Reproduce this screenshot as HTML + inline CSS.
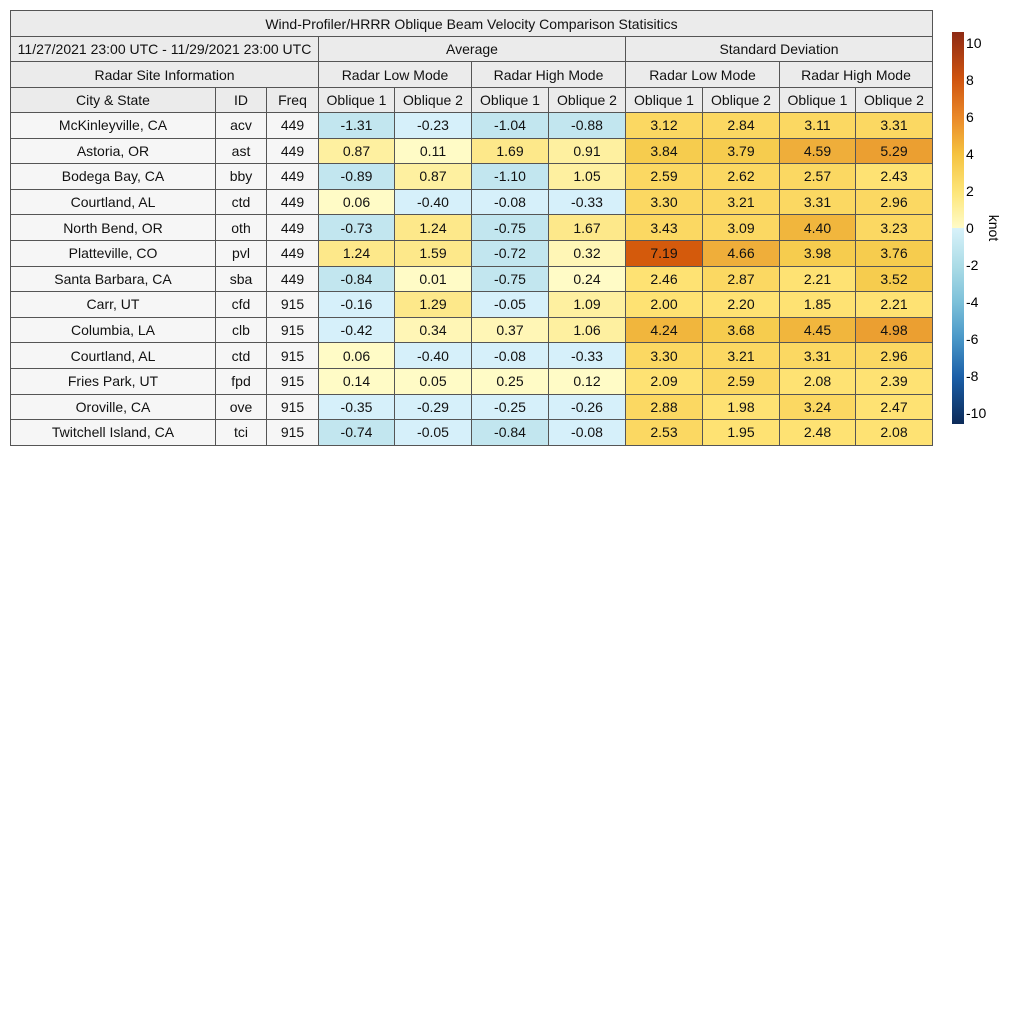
<!DOCTYPE html>
<html><head><meta charset="utf-8"><style>
body{margin:0;background:#fff;width:1024px;height:1024px;position:relative;font-family:"Liberation Sans",sans-serif;}
table{position:absolute;left:10px;top:10px;border-collapse:collapse;table-layout:fixed;width:922px;font-size:14px;color:#111;}
td{border:1px solid #555;text-align:center;padding:0;overflow:hidden;white-space:nowrap;}
tr.h td{background:#ebebeb;}
tr.d td{height:24.6px;}
tr.d td.s{background:#f6f6f6;}
.n0{background:#d6f0fa}.n1{background:#c2e6ef}
.p0{background:#fffbc6}.p03{background:#fff6b6}.p1{background:#fef0a0}.p15{background:#fde88a}.p2{background:#fee273}
.p3{background:#fbd862}.p35{background:#f6cc4e}.p4{background:#f1b63d}.p45{background:#efae3a}.p5{background:#eb9f31}.p7{background:#d45a0c;}
.cb{position:absolute;left:952px;top:32px;width:12px;height:392px;background:linear-gradient(to top,#0c2a58 0%,#1b5fa8 12%,#4a98c8 22%,#7cc0d9 31%,#aadbe6 40%,#d8f2fa 50%,#fffbc8 50%,#fde67a 59%,#f5c23f 69%,#ea8a2a 78%,#cf5410 88%,#8e2a14 100%);}
.t{position:absolute;left:966px;font-size:14px;line-height:14px;}
</style></head><body>
<table>
<colgroup><col style="width:205px"><col style="width:51px"><col style="width:52px"><col style="width:76px"><col style="width:77px"><col style="width:77px"><col style="width:77px"><col style="width:77px"><col style="width:77px"><col style="width:76px"><col style="width:77px"></colgroup>
<tr class="h"><td colspan="11" style="height:25px">Wind-Profiler/HRRR Oblique Beam Velocity Comparison Statisitics</td></tr>
<tr class="h"><td colspan="3" style="height:24px">11/27/2021 23:00 UTC - 11/29/2021 23:00 UTC</td><td colspan="4">Average</td><td colspan="4">Standard Deviation</td></tr>
<tr class="h"><td colspan="3" style="height:25px">Radar Site Information</td><td colspan="2">Radar Low Mode</td><td colspan="2">Radar High Mode</td><td colspan="2">Radar Low Mode</td><td colspan="2">Radar High Mode</td></tr>
<tr class="h"><td style="height:24px">City &amp; State</td><td>ID</td><td>Freq</td><td>Oblique 1</td><td>Oblique 2</td><td>Oblique 1</td><td>Oblique 2</td><td>Oblique 1</td><td>Oblique 2</td><td>Oblique 1</td><td>Oblique 2</td></tr>
<tr class="d"><td class="s">McKinleyville, CA</td><td class="s">acv</td><td class="s">449</td><td class="n1">-1.31</td><td class="n0">-0.23</td><td class="n1">-1.04</td><td class="n1">-0.88</td><td class="p3">3.12</td><td class="p3">2.84</td><td class="p3">3.11</td><td class="p3">3.31</td></tr>
<tr class="d"><td class="s">Astoria, OR</td><td class="s">ast</td><td class="s">449</td><td class="p1">0.87</td><td class="p0">0.11</td><td class="p15">1.69</td><td class="p1">0.91</td><td class="p35">3.84</td><td class="p35">3.79</td><td class="p45">4.59</td><td class="p5">5.29</td></tr>
<tr class="d"><td class="s">Bodega Bay, CA</td><td class="s">bby</td><td class="s">449</td><td class="n1">-0.89</td><td class="p1">0.87</td><td class="n1">-1.10</td><td class="p1">1.05</td><td class="p3">2.59</td><td class="p3">2.62</td><td class="p3">2.57</td><td class="p2">2.43</td></tr>
<tr class="d"><td class="s">Courtland, AL</td><td class="s">ctd</td><td class="s">449</td><td class="p0">0.06</td><td class="n0">-0.40</td><td class="n0">-0.08</td><td class="n0">-0.33</td><td class="p3">3.30</td><td class="p3">3.21</td><td class="p3">3.31</td><td class="p3">2.96</td></tr>
<tr class="d"><td class="s">North Bend, OR</td><td class="s">oth</td><td class="s">449</td><td class="n1">-0.73</td><td class="p15">1.24</td><td class="n1">-0.75</td><td class="p15">1.67</td><td class="p3">3.43</td><td class="p3">3.09</td><td class="p4">4.40</td><td class="p3">3.23</td></tr>
<tr class="d"><td class="s">Platteville, CO</td><td class="s">pvl</td><td class="s">449</td><td class="p15">1.24</td><td class="p15">1.59</td><td class="n1">-0.72</td><td class="p03">0.32</td><td class="p7">7.19</td><td class="p45">4.66</td><td class="p35">3.98</td><td class="p35">3.76</td></tr>
<tr class="d"><td class="s">Santa Barbara, CA</td><td class="s">sba</td><td class="s">449</td><td class="n1">-0.84</td><td class="p0">0.01</td><td class="n1">-0.75</td><td class="p0">0.24</td><td class="p2">2.46</td><td class="p3">2.87</td><td class="p2">2.21</td><td class="p35">3.52</td></tr>
<tr class="d"><td class="s">Carr, UT</td><td class="s">cfd</td><td class="s">915</td><td class="n0">-0.16</td><td class="p15">1.29</td><td class="n0">-0.05</td><td class="p1">1.09</td><td class="p2">2.00</td><td class="p2">2.20</td><td class="p2">1.85</td><td class="p2">2.21</td></tr>
<tr class="d"><td class="s">Columbia, LA</td><td class="s">clb</td><td class="s">915</td><td class="n0">-0.42</td><td class="p03">0.34</td><td class="p03">0.37</td><td class="p1">1.06</td><td class="p4">4.24</td><td class="p35">3.68</td><td class="p4">4.45</td><td class="p5">4.98</td></tr>
<tr class="d"><td class="s">Courtland, AL</td><td class="s">ctd</td><td class="s">915</td><td class="p0">0.06</td><td class="n0">-0.40</td><td class="n0">-0.08</td><td class="n0">-0.33</td><td class="p3">3.30</td><td class="p3">3.21</td><td class="p3">3.31</td><td class="p3">2.96</td></tr>
<tr class="d"><td class="s">Fries Park, UT</td><td class="s">fpd</td><td class="s">915</td><td class="p0">0.14</td><td class="p0">0.05</td><td class="p0">0.25</td><td class="p0">0.12</td><td class="p2">2.09</td><td class="p3">2.59</td><td class="p2">2.08</td><td class="p2">2.39</td></tr>
<tr class="d"><td class="s">Oroville, CA</td><td class="s">ove</td><td class="s">915</td><td class="n0">-0.35</td><td class="n0">-0.29</td><td class="n0">-0.25</td><td class="n0">-0.26</td><td class="p3">2.88</td><td class="p2">1.98</td><td class="p3">3.24</td><td class="p2">2.47</td></tr>
<tr class="d"><td class="s">Twitchell Island, CA</td><td class="s">tci</td><td class="s">915</td><td class="n1">-0.74</td><td class="n0">-0.05</td><td class="n1">-0.84</td><td class="n0">-0.08</td><td class="p3">2.53</td><td class="p2">1.95</td><td class="p2">2.48</td><td class="p2">2.08</td></tr>
</table>
<div class="cb"></div>
<div class="t" style="top:36px">10</div>
<div class="t" style="top:73px">8</div>
<div class="t" style="top:110px">6</div>
<div class="t" style="top:147px">4</div>
<div class="t" style="top:184px">2</div>
<div class="t" style="top:221px">0</div>
<div class="t" style="top:258px">-2</div>
<div class="t" style="top:295px">-4</div>
<div class="t" style="top:332px">-6</div>
<div class="t" style="top:369px">-8</div>
<div class="t" style="top:406px">-10</div>
<div style="position:absolute;left:974px;top:220px;font-size:14px;transform:rotate(90deg);transform-origin:center;width:40px;text-align:center;">knot</div>
</body></html>
